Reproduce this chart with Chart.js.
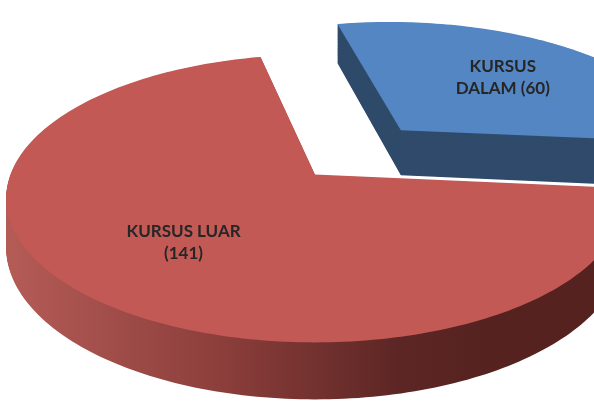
<!DOCTYPE html>
<html>
<head>
<meta charset="utf-8">
<script src="https://cdn.jsdelivr.net/npm/chart.js@4"></script>
<style>
  html, body { margin: 0; padding: 0; background: #fff; }
  #wrap { width: 594px; height: 405px; }
</style>
</head>
<body>
<div id="wrap"><canvas id="pieChart" width="594" height="405"></canvas></div>
<script>
// 3D pie - kursus dalam / luar
const categories = ["KURSUS DALAM", "KURSUS LUAR"];
const counts = [60, 141];

const faceColors = ["#5486c4", "#c25955"];
const explode = [74, 0];

// projection of the flat pie into a tilted disc with some perspective
function proj(v, X, Z, h) {
  const w = 1 + v.persp * Z;
  return [v.cx + v.rx * X / w, v.cy - v.ry * Z / w + v.depth * h / w];
}

function slicePts(el, v, h) {
  const R = el.outerRadius;
  const mid = (el.startAngle + el.endAngle) / 2;
  const off = (el.options.offset || 0) / R;
  const ex = Math.cos(mid) * off, ez = -Math.sin(mid) * off;
  const pts = [proj(v, ex, ez, h)];
  const n = Math.max(8, Math.ceil((el.endAngle - el.startAngle) / 0.02));
  for (let i = 0; i <= n; i++) {
    const a = el.startAngle + (el.endAngle - el.startAngle) * i / n;
    pts.push(proj(v, ex + Math.cos(a), ez - Math.sin(a), h));
  }
  return pts;
}

function fillPts(ctx, pts, style) {
  ctx.beginPath();
  pts.forEach((p, i) => i ? ctx.lineTo(p[0], p[1]) : ctx.moveTo(p[0], p[1]));
  ctx.closePath();
  ctx.fillStyle = style;
  ctx.fill();
}

function wrap(ctx, text, maxW) {
  const lines = [];
  let cur = "";
  text.split(" ").forEach(w => {
    const t = cur ? cur + " " + w : w;
    if (cur && ctx.measureText(t).width > maxW) { lines.push(cur); cur = w; }
    else cur = t;
  });
  lines.push(cur);
  return lines;
}

const pie3d = {
  id: "pie3d",
  beforeDatasetsDraw(chart) {
    const ctx = chart.ctx;
    const arcs = chart.getDatasetMeta(0).data;
    const R = arcs[0].outerRadius;
    const v = {
      cx: arcs[0].x + 18, cy: arcs[0].y - 28,
      rx: R * 1.84, ry: R * 0.845, depth: R * 0.287, persp: 0.167
    };

    // wall colours
    const redWall = ctx.createLinearGradient(v.cx - v.rx, 0, v.cx + v.rx * 0.6, 0);
    redWall.addColorStop(0, "#b45b56");
    redWall.addColorStop(0.45, "#8a3d3a");
    redWall.addColorStop(0.8, "#5c2624");
    redWall.addColorStop(1, "#552220");
    const walls = ["#304b6b", redWall];

    // back slice first
    const order = arcs.map((el, i) => i).sort((a, b) => {
      const za = -Math.sin((arcs[a].startAngle + arcs[a].endAngle) / 2) * (1 + (arcs[a].options.offset || 0) / R);
      const zb = -Math.sin((arcs[b].startAngle + arcs[b].endAngle) / 2) * (1 + (arcs[b].options.offset || 0) / R);
      return zb - za;
    });

    order.forEach(i => {
      const el = arcs[i];
      const layers = 60;
      for (let k = layers; k >= 1; k--) {
        fillPts(ctx, slicePts(el, v, k / layers), walls[i]);
      }
      fillPts(ctx, slicePts(el, v, 0), faceColors[i]);
    });

    // labels
    ctx.font = "bold 17px Lato";
    ctx.fillStyle = "#262626";
    ctx.textAlign = "center";
    ctx.textBaseline = "middle";
    order.forEach(i => {
      const el = arcs[i];
      const mid = (el.startAngle + el.endAngle) / 2;
      const off = (el.options.offset || 0) / R;
      const fr = 0.6;
      const p = proj(v, Math.cos(mid) * (off + fr), -Math.sin(mid) * (off + fr), 0);
      const lines = wrap(ctx, categories[i] + " (" + counts[i] + ")", 120);
      lines.forEach((ln, j) => {
        ctx.fillText(ln, p[0], p[1] + (j - (lines.length - 1) / 2) * 22);
      });
    });
    return false;
  }
};

new Chart(document.getElementById("pieChart"), {
  type: "pie",
  data: {
    labels: categories,
    datasets: [{
      data: counts,
      backgroundColor: faceColors,
      offset: explode,
      borderWidth: 0
    }]
  },
  options: {
    responsive: false,
    animation: false,
    rotation: -12,
    layout: { padding: 0 },
    plugins: {
      legend: { display: false },
      tooltip: { enabled: false }
    }
  },
  plugins: [pie3d]
});
</script>
</body>
</html>
